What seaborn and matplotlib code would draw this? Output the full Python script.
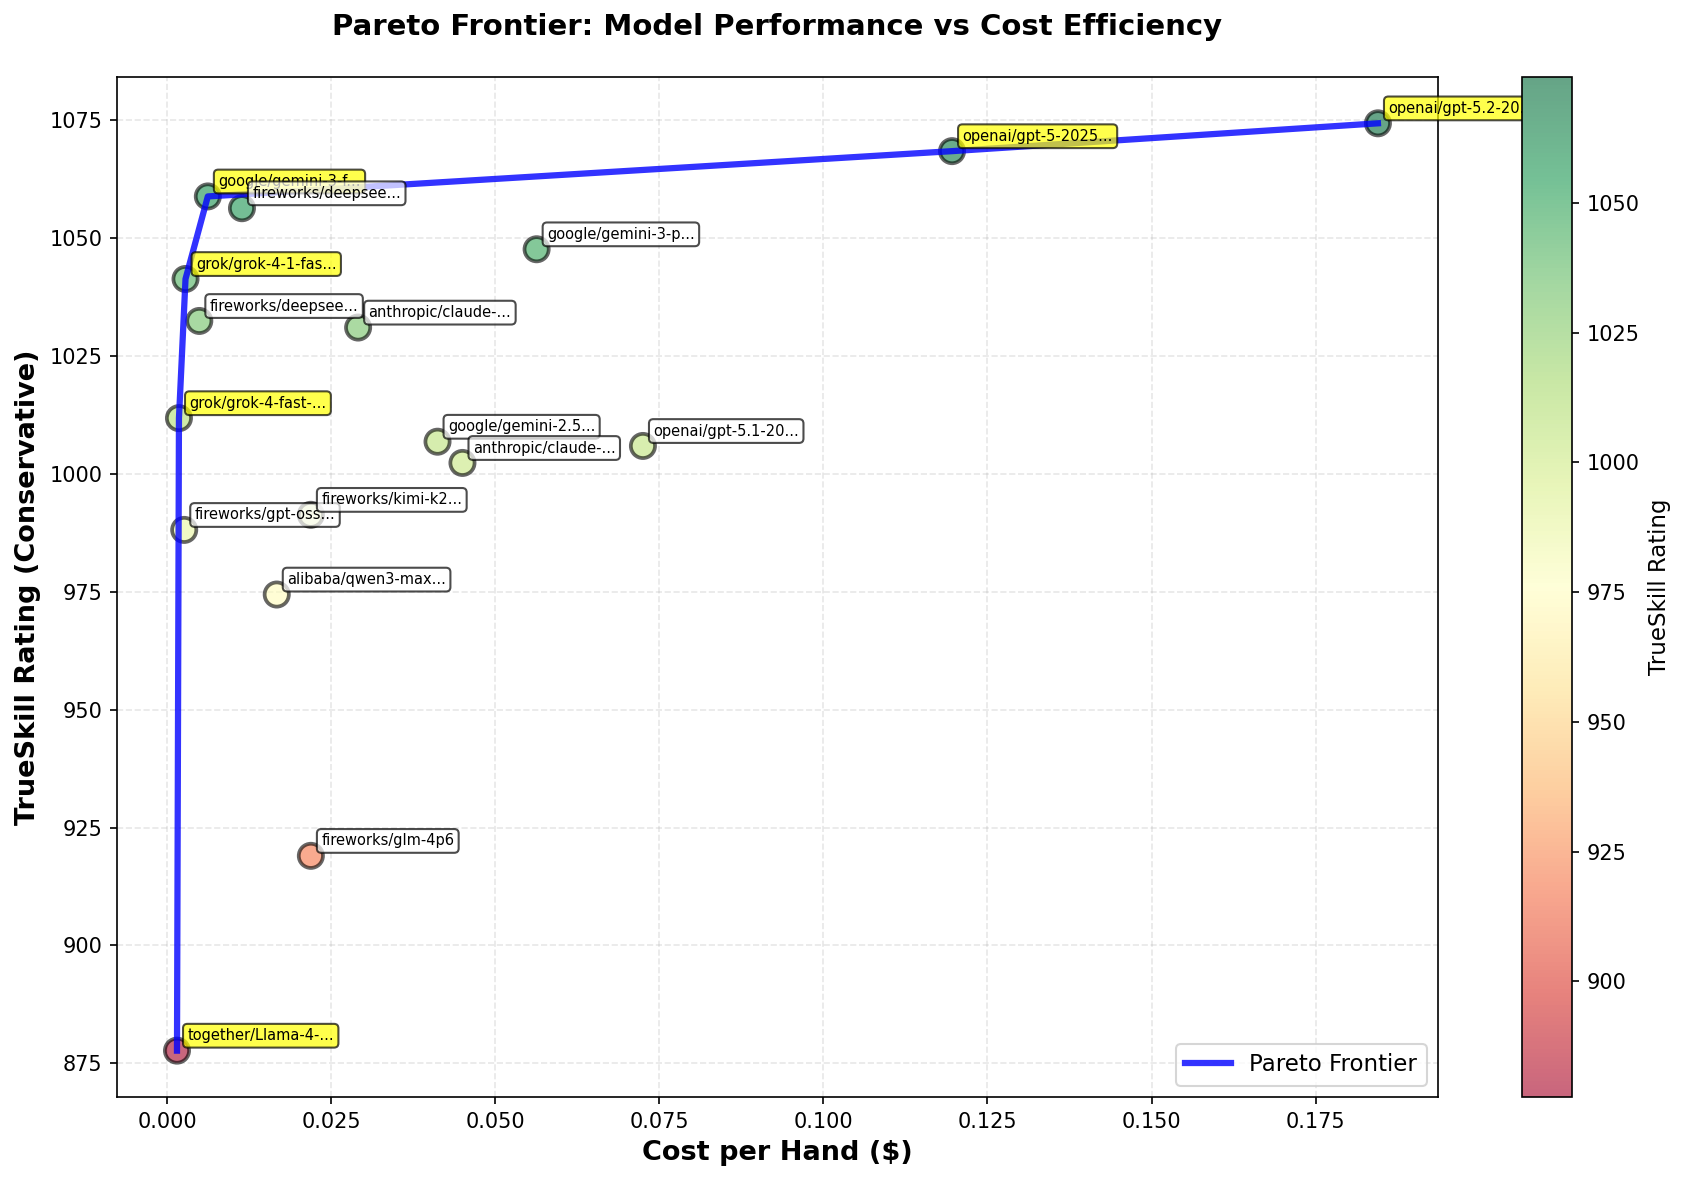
import numpy as np
import pandas as pd
import matplotlib
matplotlib.use("Agg")
import matplotlib.pyplot as plt
import seaborn as sns

# model labels (already truncated as shown), cost per hand ($), conservative TrueSkill
labels = [
    "together/Llama-4-...", "grok/grok-4-fast-...", "fireworks/gpt-oss...",
    "grok/grok-4-1-fas...", "fireworks/deepsee...", "google/gemini-3-f...",
    "fireworks/deepsee...", "alibaba/qwen3-max...", "fireworks/kimi-k2...",
    "fireworks/glm-4p6", "anthropic/claude-...", "google/gemini-2.5...",
    "anthropic/claude-...", "google/gemini-3-p...", "openai/gpt-5.1-20...",
    "openai/gpt-5-2025...", "openai/gpt-5.2-20...",
]
cost = [0.0015, 0.0018, 0.0026, 0.0028, 0.0049, 0.0062, 0.0114, 0.0167, 0.0219,
        0.0219, 0.0291, 0.0412, 0.0450, 0.0563, 0.0725, 0.1196, 0.1845]
rating = [877.7, 1011.8, 988.1, 1041.3, 1032.4, 1058.8, 1056.3, 974.4, 991.3,
          919.0, 1031.0, 1006.8, 1002.3, 1047.6, 1005.9, 1068.4, 1074.3]
pareto = [True, True, False, True, False, True, False, False, False,
          False, False, False, False, False, False, True, True]

df = pd.DataFrame({"label": labels, "cost": cost, "rating": rating, "pareto": pareto})

fig = plt.figure(figsize=(1685 / 150, 1182 / 150), dpi=150)
ax = fig.add_axes([0.0694, 0.0719, 0.784, 0.863])
cax = fig.add_axes([0.9033, 0.0719, 0.0297, 0.863])

vmin, vmax = df["rating"].min(), df["rating"].max()
sns.scatterplot(data=df, x="cost", y="rating", hue="rating", palette="RdYlGn",
                hue_norm=(vmin, vmax), s=135, alpha=0.6, edgecolor="black",
                linewidth=1.8, legend=False, ax=ax, zorder=2)

front = df[df["pareto"]].sort_values("cost")
sns.lineplot(data=front, x="cost", y="rating", color="blue", lw=3, alpha=0.8,
             label="Pareto Frontier", ax=ax, zorder=3)

for _, r in df.iterrows():
    fc = "yellow" if r["pareto"] else "white"
    ax.annotate(r["label"], (r["cost"], r["rating"]), xytext=(5, 5),
                textcoords="offset points", fontsize=7,
                bbox=dict(boxstyle="round,pad=0.3", facecolor=fc, alpha=0.7))

sm = plt.cm.ScalarMappable(cmap="RdYlGn", norm=plt.Normalize(vmin, vmax))
cbar = fig.colorbar(sm, cax=cax, alpha=0.6)
cbar.set_label("TrueSkill Rating", fontsize=11)

ax.set_xlabel("Cost per Hand ($)", fontsize=13, fontweight="bold")
ax.set_ylabel("TrueSkill Rating (Conservative)", fontsize=13, fontweight="bold")
ax.set_title("Pareto Frontier: Model Performance vs Cost Efficiency",
             fontsize=14, fontweight="bold", pad=20)
ax.grid(True, alpha=0.3, linestyle="--")
ax.legend(loc="lower right", fontsize=11)

fig.savefig("out.png", dpi=150)
